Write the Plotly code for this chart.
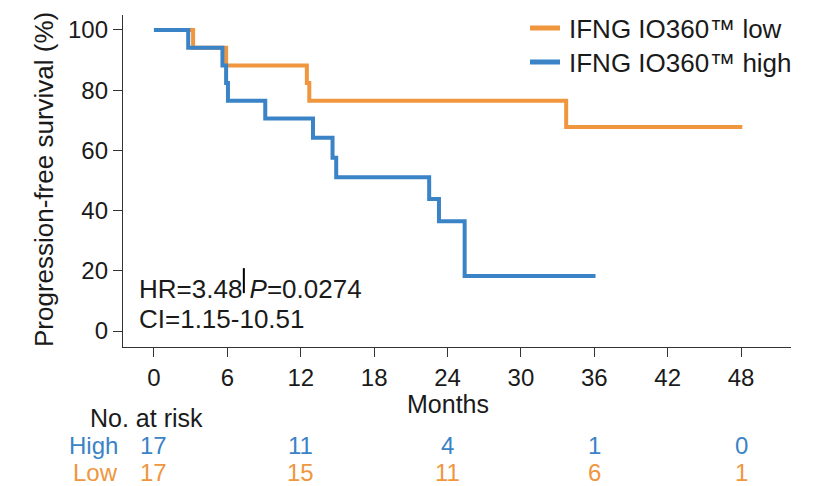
import plotly.graph_objects as go

# Kaplan-Meier step data (months, % progression-free)
low_months = [0, 3.2, 5.9, 12.5, 12.7, 33.7, 48.1]
low_surv = [100, 94.1, 88.2, 82.4, 76.5, 67.8, 67.8]
high_months = [0, 2.8, 5.6, 5.9, 6.05, 9.1, 13.0, 14.6, 14.9, 22.5, 23.3, 25.4, 36.1]
high_surv = [100, 94.1, 88.2, 82.4, 76.5, 70.6, 64.2, 57.6, 51.1, 43.9, 36.5, 18.3, 18.3]

# stray censor-like tick seen in the figure
mark_x = [7.35, 7.35]
mark_y = [12.6, 20.9]

x_ticks = [0, 6, 12, 18, 24, 30, 36, 42, 48]
y_ticks = [0, 20, 40, 60, 80, 100]

risk_times = [0, 12, 24, 36, 48]
risk_high = [17, 11, 4, 1, 0]
risk_low = [17, 15, 11, 6, 1]

series_names = ["IFNG IO360™ low", "IFNG IO360™ high"]

ORANGE = "rgb(239,150,62)"
BLUE = "rgb(58,131,198)"
TXT = "#1a1a1a"
FONT = "Liberation Sans, Arial, sans-serif"

# page layout (browser body adds 8px margin)
BODY = 8
PLOT_L, PLOT_R, PLOT_T, PLOT_B = 123, 791, 15, 347
W, H = 813, 486
PW = PLOT_R - PLOT_L
PH = PLOT_B - PLOT_T


def px(xp):
    return (xp - PLOT_L) / PW


def py(yp):
    return (PLOT_B - yp) / PH


fig = go.Figure()
fig.add_trace(go.Scatter(x=low_months, y=low_surv, mode="lines",
                         line=dict(shape="hv", color=ORANGE, width=4), name=series_names[0]))
fig.add_trace(go.Scatter(x=high_months, y=high_surv, mode="lines",
                         line=dict(shape="hv", color=BLUE, width=4), name=series_names[1]))
fig.add_trace(go.Scatter(x=mark_x, y=mark_y, mode="lines", line=dict(color="black", width=2)))

ann = []
shapes = []

# manual legend
for name, color, ly in zip(series_names, [ORANGE, BLUE], [28, 62]):
    shapes.append(dict(type="line", xref="paper", yref="paper", x0=px(530), x1=px(560), y0=py(ly), y1=py(ly),
                       line=dict(color=color, width=5)))
    ann.append(dict(x=px(567), y=py(ly + 1), xref="paper", yref="paper", text=name, showarrow=False,
                    xanchor="left", yanchor="middle", font=dict(size=26, color=TXT, family=FONT)))

ann.append(dict(x=px(137), y=py(289), xref="paper", yref="paper", text="HR=3.48 <i>P</i>=0.0274",
                showarrow=False, xanchor="left", yanchor="middle", font=dict(size=26, color=TXT, family=FONT)))
ann.append(dict(x=px(137), y=py(319), xref="paper", yref="paper", text="CI=1.15-10.51",
                showarrow=False, xanchor="left", yanchor="middle", font=dict(size=26, color=TXT, family=FONT)))
ann.append(dict(x=24, y=py(404), xref="x", yref="paper", text="Months", showarrow=False,
                xanchor="center", yanchor="middle", font=dict(size=25, color=TXT, family=FONT)))
ann.append(dict(x=px(44), y=py(180), xref="paper", yref="paper", text="Progression-free survival (%)",
                showarrow=False, textangle=-90, xanchor="center", yanchor="middle",
                font=dict(size=26, color=TXT, family=FONT)))
ann.append(dict(x=px(146.5), y=py(418), xref="paper", yref="paper", text="No. at risk", showarrow=False,
                xanchor="center", yanchor="middle", font=dict(size=25, color=TXT, family=FONT)))
ann.append(dict(x=px(120), y=py(445), xref="paper", yref="paper", text="High", showarrow=False,
                xanchor="right", yanchor="middle", font=dict(size=24, color=BLUE, family=FONT)))
ann.append(dict(x=px(120), y=py(472), xref="paper", yref="paper", text="Low", showarrow=False,
                xanchor="right", yanchor="middle", font=dict(size=24, color=ORANGE, family=FONT)))
for t, h, l in zip(risk_times, risk_high, risk_low):
    ann.append(dict(x=t, y=py(445), xref="x", yref="paper", text=str(h), showarrow=False,
                    xanchor="center", yanchor="middle", font=dict(size=24, color=BLUE, family=FONT)))
    ann.append(dict(x=t, y=py(472), xref="x", yref="paper", text=str(l), showarrow=False,
                    xanchor="center", yanchor="middle", font=dict(size=24, color=ORANGE, family=FONT)))

fig.update_layout(
    width=W, height=H, autosize=False,
    margin=dict(l=PLOT_L - BODY, r=W + BODY - PLOT_R, t=PLOT_T - BODY, b=H + BODY - PLOT_B, pad=0),
    paper_bgcolor="white", plot_bgcolor="white",
    font=dict(family=FONT, color=TXT),
    showlegend=False,
    annotations=ann,
    shapes=shapes,
)
fig.update_xaxes(range=[-2.53, 52.08], tickvals=x_ticks, ticks="outside", ticklen=9, tickwidth=1.3,
                 tickcolor="#333", showline=True, linecolor="#333", linewidth=1.3, showgrid=False,
                 zeroline=False, automargin=False, tickfont=dict(size=24, family=FONT, color=TXT))
fig.update_yaxes(range=[-5.3, 104.98], tickvals=y_ticks, ticks="outside", ticklen=9, tickwidth=1.3,
                 tickcolor="#333", showline=True, linecolor="#333", linewidth=1.3, showgrid=False,
                 zeroline=False, automargin=False, tickfont=dict(size=24, family=FONT, color=TXT))

fig.write_html("out.html")
